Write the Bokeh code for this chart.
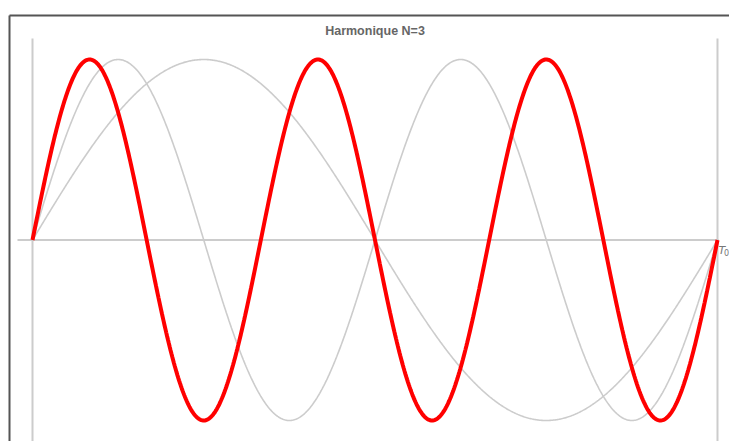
import numpy as np
from bokeh.plotting import figure
from bokeh.models import LinearAxis, FixedTicker, Label, Range1d
from bokeh.embed import file_html
from bokeh.resources import INLINE

# ---- data ----
title_text = "Harmonique N=3"
period_symbol = "T"
period_subscript = "0"
period = 1.0                 # T0
amplitude = 1.0
background_harmonics = [1, 2]   # grey curves
highlight_harmonic = 3          # red curve
n_samples = 800

# ---- view extents (in data units) ----
x_start, x_end = -0.03358, 1.01752
y_start, y_end = -1.11634, 1.24377
axis_x_from, axis_x_to = -0.0219, 1.0015
vline_top = 1.1163

p = figure(width=729, height=441, output_backend="svg", toolbar_location=None,
           x_axis_type=None, y_axis_type=None,
           x_range=Range1d(x_start, x_end), y_range=Range1d(y_start, y_end),
           min_border_left=9, min_border_top=15, min_border_right=0, min_border_bottom=0,
           outline_line_color=None, background_fill_color="white",
           border_fill_color="white")

# outer frame lines (top and left) as bare axes
for side in ("left", "above"):
    ax = LinearAxis(ticker=FixedTicker(ticks=[]), major_tick_out=0, major_tick_in=0,
                    minor_tick_out=0, minor_tick_in=0, major_label_text_font_size="0px",
                    major_label_standoff=0, axis_line_color="#555555", axis_line_width=2)
    p.add_layout(ax, side)

# axes of the chart
p.segment(x0=[axis_x_from], y0=[0], x1=[axis_x_to], y1=[0],
          line_color="#bbbbbb", line_width=1.5)
p.segment(x0=[0, period], y0=[vline_top, vline_top], x1=[0, period], y1=[y_start - 0.1, y_start - 0.1],
          line_color="#cccccc", line_width=2)

t = np.linspace(0, period, n_samples)
for n in background_harmonics:
    p.line(t, amplitude * np.sin(2 * np.pi * n * t / period), line_color="#cccccc", line_width=1.6)
p.line(t, amplitude * np.sin(2 * np.pi * highlight_harmonic * t / period),
       line_color="#ff0000", line_width=4)

p.add_layout(Label(x=period / 2, y=1.16, text=title_text, text_align="center",
                   text_baseline="middle", text_font="Liberation Sans",
                   text_font_style="bold", text_font_size="12.5px", text_color="#666666"))
p.add_layout(Label(x=period, y=0, x_offset=1, y_offset=-4, text=period_symbol,
                   text_align="left", text_baseline="top", text_font="DejaVu Sans",
                   text_font_style="italic", text_font_size="11px", text_color="#777777"))
p.add_layout(Label(x=period, y=0, x_offset=6.5, y_offset=-9, text=period_subscript,
                   text_align="left", text_baseline="top", text_font="DejaVu Sans",
                   text_font_size="8px", text_color="#777777"))

open("out.html", "w").write(file_html(p, INLINE))
